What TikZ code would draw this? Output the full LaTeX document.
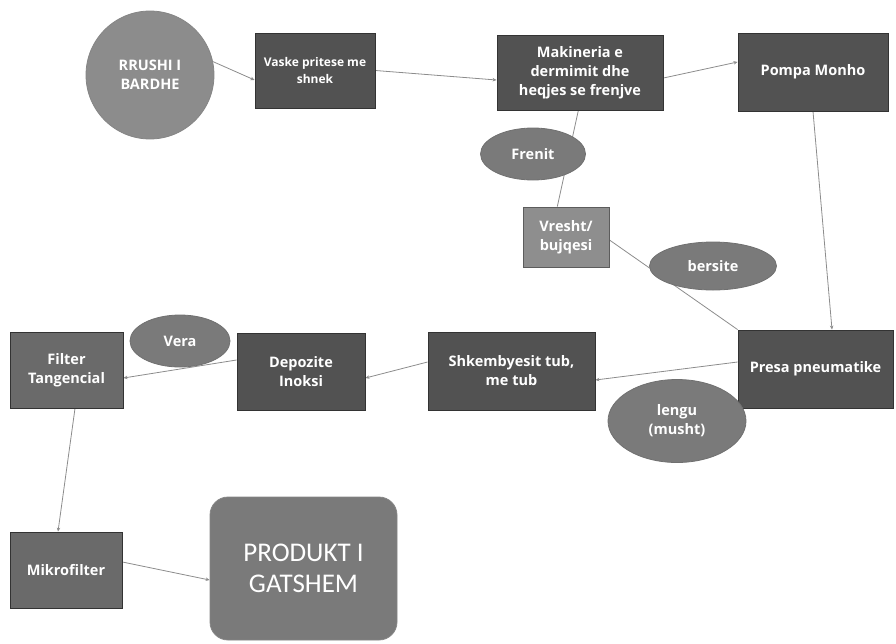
\documentclass[tikz,border=0pt]{standalone}
\usepackage{fontspec}
\setmainfont{Open Sans}
\newfontfamily\prodfont{Carlito}
\usetikzlibrary{shapes.geometric,arrows.meta,backgrounds,calc}
\definecolor{boxdark}{HTML}{525252}
\definecolor{boxmid}{HTML}{6A6A6A}
\definecolor{boxlight}{HTML}{8E8E8E}
\definecolor{ellgray}{HTML}{7A7A7A}
\definecolor{circgray}{HTML}{8C8C8C}
\definecolor{linegray}{HTML}{8C8C8C}
\definecolor{edgegray}{HTML}{333333}
\tikzset{
  every node/.style={text=white, font=\bfseries\fontsize{14.5}{19}\selectfont, align=center, inner sep=1pt},
  stepbox/.style={rectangle, draw=edgegray, line width=0.9pt, fill=boxdark},
  lightbox/.style={rectangle, draw=edgegray!80, line width=0.9pt, fill=boxlight},
  midbox/.style={rectangle, draw=edgegray, line width=0.9pt, fill=boxmid},
  oval/.style={ellipse, draw=edgegray!70, line width=0.8pt, fill=ellgray},
  conn/.style={draw=linegray, line width=0.8pt},
  flow/.style={conn, -{Stealth[length=4pt,width=3.5pt]}},
}
\begin{document}
\begin{tikzpicture}[x=1pt,y=-1pt]
\useasboundingbox (0,0) rectangle (896,643);
% nodes
\node[circle, fill=circgray, draw=edgegray!60, line width=0.8pt, minimum size=128pt] (rrushi) at (150,75) {RRUSHI I\\BARDHE};
\node[stepbox, minimum width=120pt, minimum height=75pt, font=\bfseries\fontsize{12}{17}\selectfont] (vaske) at (315,70.5) {Vaske pritese me\\shnek};
\node[stepbox, minimum width=166pt, minimum height=75pt] (mak) at (580,72.5) {Makineria e\\dermimit dhe\\heqjes se frenjve};
\node[stepbox, minimum width=150pt, minimum height=78pt] (pompa) at (813,72) {Pompa Monho};
\node[lightbox, minimum width=86pt, minimum height=60pt] (vresht) at (566,237) {Vresht/\\bujqesi};
\node[stepbox, minimum width=155pt, minimum height=78pt] (presa) at (815.5,369) {Presa pneumatike};
\node[stepbox, minimum width=167pt, minimum height=78pt] (shkem) at (511.5,371) {Shkembyesit tub,\\me tub};
\node[stepbox, minimum width=128pt, minimum height=77pt] (depoz) at (301,371.5) {Depozite\\Inoksi};
\node[midbox, minimum width=113pt, minimum height=76pt] (filter) at (66.5,370) {Filter\\Tangencial};
\node[midbox, minimum width=112pt, minimum height=76pt] (mikro) at (66,570) {Mikrofilter};
\node[rectangle, rounded corners=18pt, fill=ellgray, draw=edgegray!60, line width=0.8pt, minimum width=187pt, minimum height=143pt, font=\prodfont\fontsize{27}{31}\selectfont] (prod) at (303.5,568.5) {PRODUKT I\\GATSHEM};
\node[oval, minimum width=105pt, minimum height=52pt] (frenit) at (533,154) {Frenit};
\node[oval, minimum width=127pt, minimum height=48pt] (bersite) at (713,266) {bersite};
\node[oval, minimum width=100pt, minimum height=52pt] (vera) at (180,341) {Vera};
\node[oval, minimum width=138pt, minimum height=83pt] (lengu) at (677,421) {lengu\\(musht)};
% connectors
\begin{scope}[on background layer]
\draw[flow] (rrushi.12) -- ([yshift=-9.5pt]vaske.west);
\draw[flow] (vaske.east) -- ([yshift=-7.5pt]mak.west);
\draw[flow] ([yshift=-5.5pt]mak.east) -- ([yshift=10pt]pompa.west);
\draw[conn] ($(mak.south west)!0.49!(mak.south east)$) -- ($(vresht.north west)!0.4!(vresht.north east)$);
\draw[flow] (pompa.south) -- ([xshift=16.5pt]presa.north);
\draw[conn] ([yshift=-3pt]vresht.east) -- (presa.north west);
\draw[flow] ([yshift=7pt]presa.west) -- ([yshift=-9pt]shkem.east);
\draw[flow] ([yshift=9pt]shkem.west) -- ([yshift=-6.5pt]depoz.east);
\draw[flow] ([yshift=11.5pt]depoz.west) -- ([yshift=-8pt]filter.east);
\draw[flow] ([xshift=8.5pt]filter.south) -- ([xshift=-8pt]mikro.north);
\draw[flow] ([yshift=8pt]mikro.east) -- ([yshift=-11.5pt]prod.west);
\end{scope}
\end{tikzpicture}
\end{document}
